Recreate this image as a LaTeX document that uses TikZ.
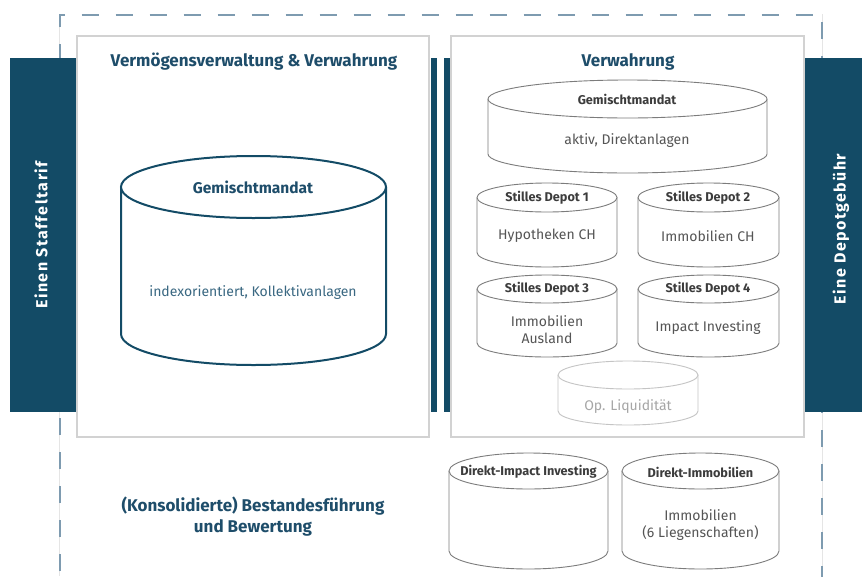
\documentclass[tikz,border=0pt]{standalone}
\usepackage{fontspec}
\setmainfont{Fira Sans}
\definecolor{dblue}{HTML}{134B66}
\definecolor{tblue}{HTML}{1E4D6A}
\definecolor{lblue}{HTML}{3A6882}
\definecolor{dashc}{HTML}{7E9BB0}
\definecolor{cylgray}{HTML}{7C7C7C}
\definecolor{txtgray}{HTML}{555555}
\definecolor{headgray}{HTML}{3C3C3C}
\definecolor{lightc}{HTML}{C4C4C4}
\definecolor{lighttxt}{HTML}{A6A6A6}
\definecolor{panelc}{HTML}{D2D2D2}
\newcommand\cylin[6]{%
  \pgfmathsetmacro\cx{(#1+#2)/2}\pgfmathsetmacro\rx{(#2-#1)/2}%
  \draw[#6, fill=white] (#1,#3) -- (#1,#4) arc[start angle=180,end angle=0,x radius=\rx,y radius=#5] -- (#2,#3);%
  \draw[#6, fill=white] (\cx,#3) ellipse [x radius=\rx, y radius=#5];%
}
\tikzset{
  bigtitle/.style={font=\fontsize{17}{20}\selectfont\bfseries, text=tblue, inner sep=0pt},
  bartext/.style={font=\fontsize{16}{18}\selectfont\bfseries\addfontfeatures{LetterSpace=9}, text=white, rotate=90, inner sep=0pt},
  gcyl/.style={draw=cylgray, line width=0.9pt},
  bcyl/.style={draw=dblue, line width=2pt},
  lcyl/.style={draw=lightc, line width=0.9pt},
  chead/.style={font=\fontsize{12.7}{14}\selectfont\bfseries, text=headgray, inner sep=0pt},
  cbody/.style={font=\fontsize{14}{17}\selectfont, text=txtgray, inner sep=0pt, align=center},
  panel/.style={draw=panelc, line width=1.4pt, fill=white},
}
\begin{document}
\begin{tikzpicture}[x=1pt,y=-1pt]
\useasboundingbox (0,0) rectangle (862,576);
% faint frame lines
\draw[gray!20, line width=0.6pt] (59.5,14) -- (59.5,576);
\draw[gray!20, line width=0.6pt] (822.5,14) -- (822.5,576);
% dashed frame
\draw[dashc, line width=2pt, dash pattern=on 17pt off 17pt, dash phase=20pt] (60,585) -- (60,14.5) -- (822,14.5) -- (822,585);
% side bars
\fill[dblue] (10,58) rectangle (76,412);
\fill[dblue] (805,58) rectangle (862,412);
\node[bartext] (lbar) at (41,235) {Einen Staffeltarif};
\node[bartext] (rbar) at (841,229) {Eine Depotgebühr};
% panels
\draw[panel] (77,36) rectangle (429,437);
\draw[panel] (451,36) rectangle (804,437);
% middle bars
\fill[dblue] (431,58) rectangle (437,412);
\fill[dblue] (444,58) rectangle (450,412);
% titles
\node[bigtitle] (t1) at (254,62) {Vermögensverwaltung \& Verwahrung};
\node[bigtitle] (t2) at (628,62) {Verwahrung};
% big cylinder
\cylin{121}{386}{187}{334}{31}{bcyl}
\node[font=\fontsize{15.5}{18}\selectfont\bfseries, text=tblue, inner sep=0pt] (gm1) at (253,187) {Gemischtmandat};
\node[font=\fontsize{14}{17}\selectfont, text=lblue, inner sep=0pt] (gm1b) at (253,293) {indexorientiert, Kollektivanlagen};
% right cylinders
\cylin{488}{767}{99}{154}{19}{gcyl}
\node[chead] (gm2) at (627,99) {Gemischtmandat};
\node[cbody] (gm2b) at (627,141) {aktiv, Direktanlagen};
\cylin{477}{617}{197.5}{252.5}{14.5}{gcyl}
\node[chead] (sd1) at (547,198) {Stilles Depot 1};
\node[cbody] (sd1b) at (547,236) {Hypotheken CH};
\cylin{638}{779}{197.5}{252.5}{14.5}{gcyl}
\node[chead] (sd2) at (708,198) {Stilles Depot 2};
\node[cbody] (sd2b) at (708,236) {Immobilien CH};
\cylin{477}{617}{289}{343}{14}{gcyl}
\node[chead] (sd3) at (547,289) {Stilles Depot 3};
\node[cbody] (sd3b) at (547,329.5) {Immobilien\\Ausland};
\cylin{638}{779}{289}{343}{14}{gcyl}
\node[chead] (sd4) at (708,289) {Stilles Depot 4};
\node[cbody] (sd4b) at (708,328) {Impact Investing};
\cylin{558}{698}{375}{411}{14}{lcyl}
\node[cbody, text=lighttxt] (op) at (628,407) {Op. Liquidität};
% bottom cylinders
\cylin{449}{608}{471}{551}{18}{gcyl}
\node[chead] (di) at (528.5,472) {Direkt-Impact Investing};
\cylin{622}{779}{471}{551}{18}{gcyl}
\node[chead] (dim) at (700.5,472) {Direkt-Immobilien};
\node[cbody] (dimb) at (700.5,525.5) {Immobilien\\(6 Liegenschaften)};
% bottom left text
\node[font=\fontsize{17}{21}\selectfont\bfseries, text=tblue, inner sep=0pt, align=center] (kons) at (253,516.5) {(Konsolidierte) Bestandesführung\\und Bewertung};
\end{tikzpicture}
\end{document}
